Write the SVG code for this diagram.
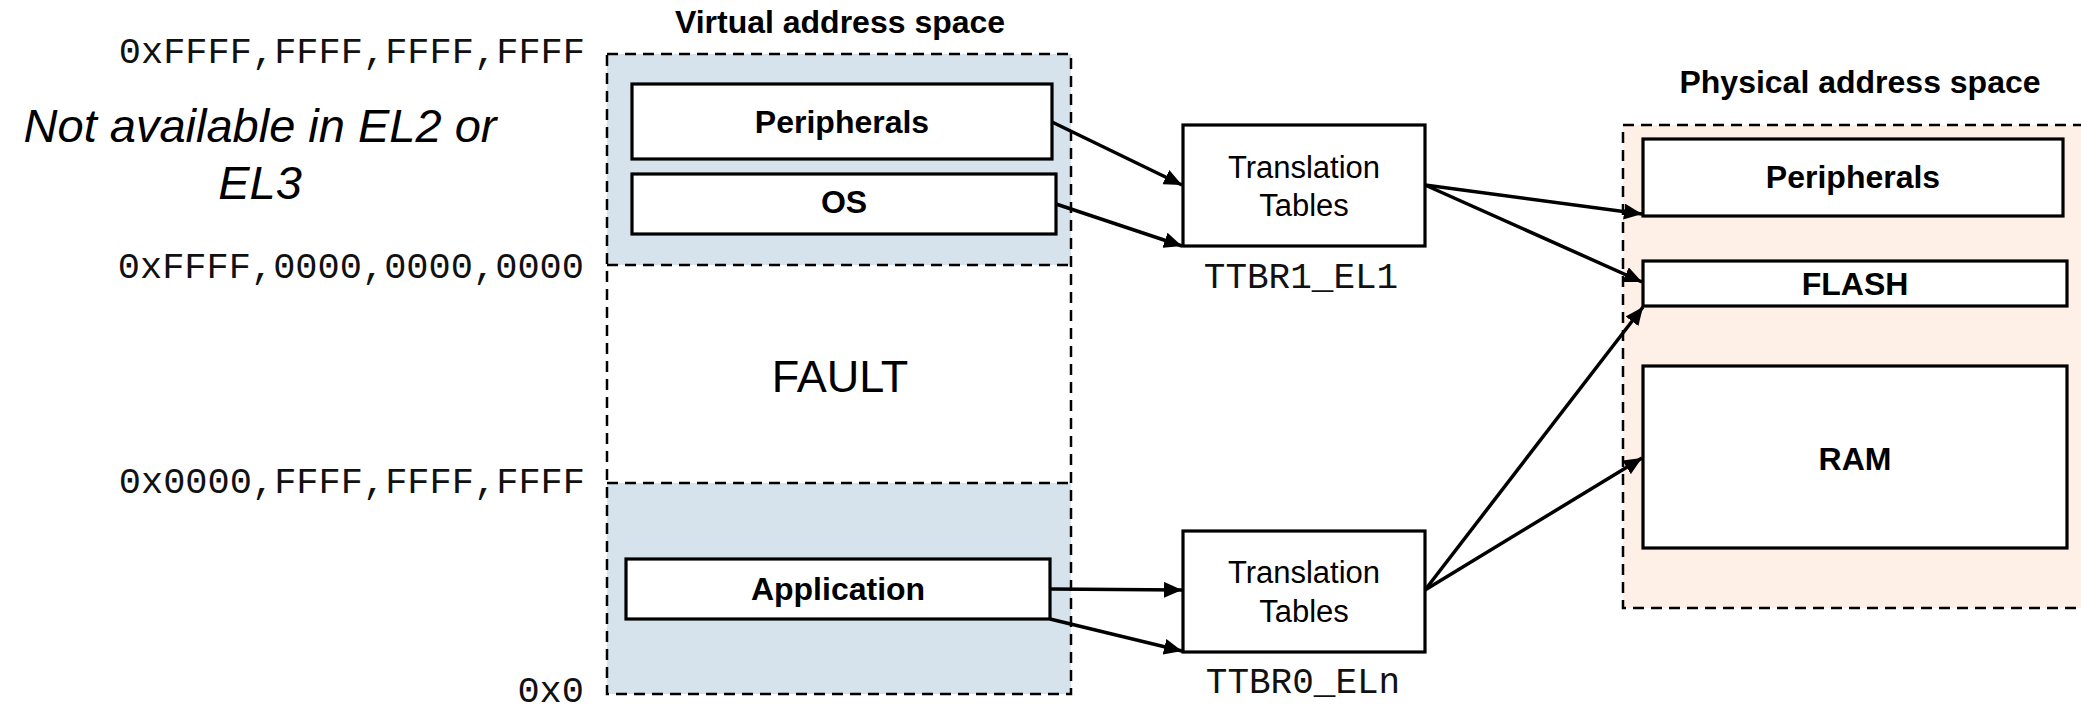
<svg xmlns="http://www.w3.org/2000/svg" width="2081" height="709" viewBox="0 0 2081 709">
<style>
.box{fill:#fff;stroke:#000;stroke-width:3.2}
.dash{fill:none;stroke:#000;stroke-width:2.5;stroke-dasharray:11 7}
.mono{font-family:"Liberation Mono","Courier New",monospace;fill:#111}
.sans{font-family:"Liberation Sans",Arial,sans-serif;fill:#000}
.b{font-weight:bold;font-size:32px}
.mid{text-anchor:middle}
.end{text-anchor:end}
.conn{stroke:#000;stroke-width:3.5;fill:none;marker-end:url(#ah)}
</style>
<defs>
<marker id="ah" markerUnits="userSpaceOnUse" markerWidth="18" markerHeight="16" refX="18" refY="8" orient="auto">
<path d="M0,0 L18,8 L0,16 z" fill="#000"/>
</marker>
</defs>
<rect width="2081" height="709" fill="#fff"/>

<g id="addr-labels">
<text class="mono end" x="585" y="63" font-size="37">0xFFFF,FFFF,FFFF,FFFF</text>
<text class="mono end" x="584" y="278" font-size="37">0xFFFF,0000,0000,0000</text>
<text class="mono end" x="585" y="493" font-size="37">0x0000,FFFF,FFFF,FFFF</text>
<text class="mono end" x="584" y="702" font-size="37">0x0</text>
</g>

<g id="note">
<text class="sans mid" x="260" y="142" font-size="47" font-style="italic">Not available in EL2 or</text>
<text class="sans mid" x="260" y="199" font-size="47" font-style="italic">EL3</text>
</g>

<g id="virtual-space">
<text class="sans b mid" x="840" y="33">Virtual address space</text>
<rect x="607" y="54" width="464" height="211" fill="#D6E3EC"/>
<rect x="607" y="483" width="464" height="211" fill="#D6E3EC"/>
<rect class="dash" x="607" y="54" width="464" height="640"/>
<line class="dash" x1="607" y1="265" x2="1071" y2="265"/>
<line class="dash" x1="607" y1="483" x2="1071" y2="483"/>
<text class="sans mid" x="840" y="392" font-size="45">FAULT</text>
</g>

<g id="v-peripherals">
<rect class="box" x="632" y="84" width="420" height="75"/>
<text class="sans b mid" x="842" y="133">Peripherals</text>
</g>
<g id="v-os">
<rect class="box" x="632" y="174" width="424" height="60"/>
<text class="sans b mid" x="844" y="213">OS</text>
</g>
<g id="v-application">
<rect class="box" x="626" y="559" width="424" height="60"/>
<text class="sans b mid" x="838" y="600">Application</text>
</g>

<g id="tt1">
<rect class="box" x="1183" y="125" width="242" height="121"/>
<text class="sans mid" x="1304" y="178" font-size="31">Translation</text>
<text class="sans mid" x="1304" y="216" font-size="31">Tables</text>
<text class="mono mid" x="1301" y="288" font-size="36">TTBR1_EL1</text>
</g>
<g id="tt0">
<rect class="box" x="1183" y="531" width="242" height="121"/>
<text class="sans mid" x="1304" y="583" font-size="31">Translation</text>
<text class="sans mid" x="1304" y="622" font-size="31">Tables</text>
<text class="mono mid" x="1303" y="693" font-size="36">TTBR0_ELn</text>
</g>

<g id="physical-space">
<text class="sans b mid" x="1860" y="93">Physical address space</text>
<rect x="1623" y="125" width="480" height="483" fill="#FEF0E6"/>
<rect class="dash" x="1623" y="125" width="480" height="483"/>
</g>
<g id="p-peripherals">
<rect class="box" x="1643" y="139" width="420" height="77"/>
<text class="sans b mid" x="1853" y="188">Peripherals</text>
</g>
<g id="p-flash">
<rect class="box" x="1643" y="261" width="424" height="45"/>
<text class="sans b mid" x="1855" y="295">FLASH</text>
</g>
<g id="p-ram">
<rect class="box" x="1643" y="366" width="424" height="182"/>
<text class="sans b mid" x="1855" y="470">RAM</text>
</g>

<g id="connectors">
<line class="conn" x1="1052" y1="122" x2="1182" y2="185"/>
<line class="conn" x1="1056" y1="204" x2="1182" y2="246"/>
<line class="conn" x1="1425" y1="185" x2="1642" y2="214"/>
<line class="conn" x1="1425" y1="185" x2="1642" y2="282"/>
<line class="conn" x1="1050" y1="589" x2="1182" y2="590"/>
<line class="conn" x1="1050" y1="619" x2="1182" y2="651"/>
<line class="conn" x1="1425" y1="590" x2="1643" y2="307"/>
<line class="conn" x1="1425" y1="590" x2="1642" y2="458"/>
</g>
</svg>
